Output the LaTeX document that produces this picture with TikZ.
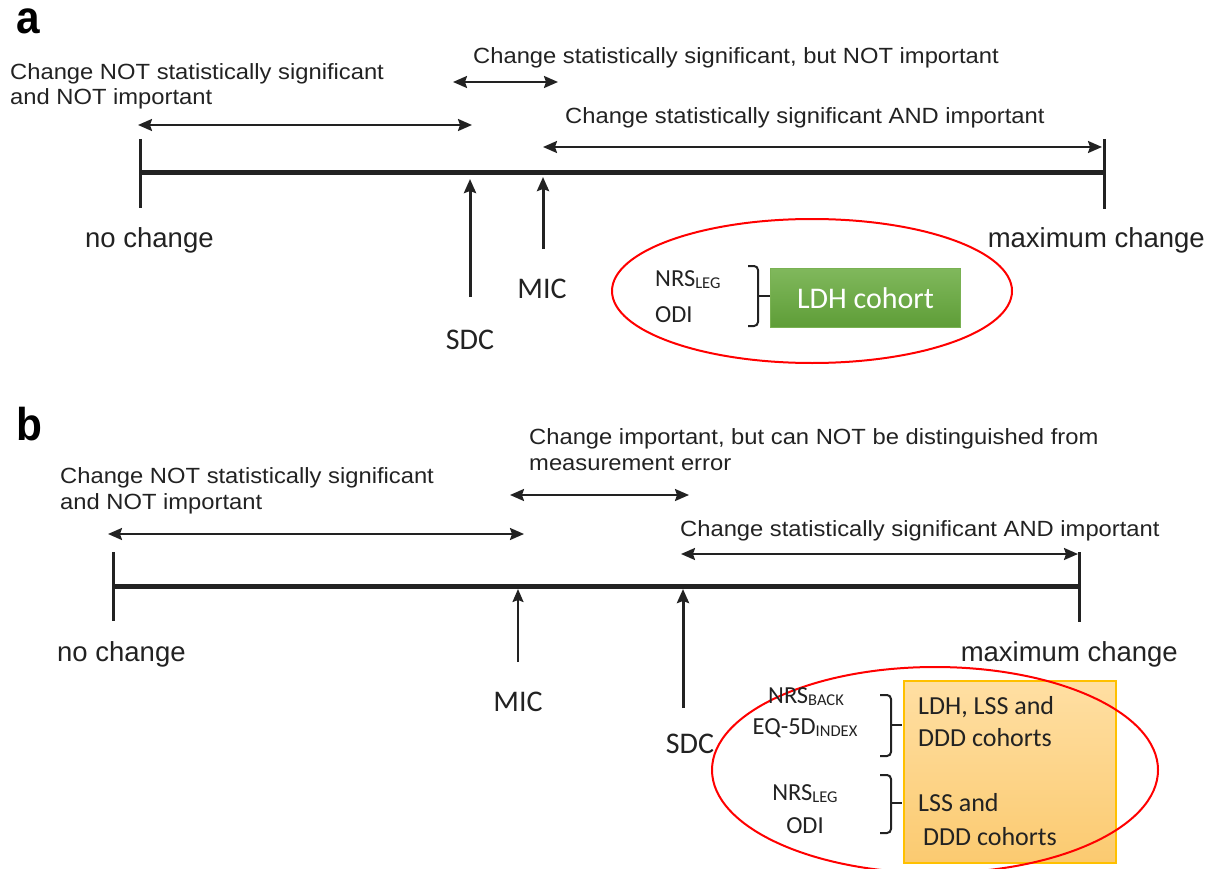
\documentclass[tikz,border=0pt]{standalone}
\usepackage{fontspec}
\setmainfont{Liberation Sans}
\newfontfamily\widefont{Liberation Sans}[FakeStretch=1.08]
\newfontfamily\panelfont{Liberation Sans}[FakeStretch=0.92]
\newfontfamily\calib{Carlito}
\usetikzlibrary{arrows.meta,shapes.geometric}
\definecolor{ldhtop}{HTML}{80B85C}
\definecolor{ldhbot}{HTML}{5E9D37}
\definecolor{ldhedge}{HTML}{79B152}
\definecolor{ortop}{HTML}{FFDFA3}
\definecolor{orbot}{HTML}{FBCA70}
\definecolor{oredge}{HTML}{FFC000}
\definecolor{ink}{HTML}{222222}
\tikzset{
  tipd/.tip={Stealth[length=14pt,width=12pt,inset=2pt]},
  darr/.style={tipd-tipd, line width=2.2pt, draw=ink},
  uparr/.style={-{Stealth[length=14pt,width=12pt,inset=2pt]}, line width=3pt, draw=ink},
  thinup/.style={-{Stealth[length=13pt,width=11pt,inset=2pt]}, line width=2pt, draw=ink},
  axisline/.style={line width=5pt, draw=ink},
  tickline/.style={line width=3pt, draw=ink},
  lbl/.style={font=\widefont\fontsize{22}{26}\selectfont, inner sep=0pt, text=ink},
  endlbl/.style={font=\fontsize{27.5}{32}\selectfont, inner sep=0pt, text=ink},
  cal/.style={font=\calib\fontsize{30}{36}\selectfont, inner sep=0pt, text=ink},
  meas/.style={font=\calib\fontsize{24.5}{30}\selectfont, inner sep=0pt, text=ink},
  panel/.style={font=\panelfont\bfseries\fontsize{46}{50}\selectfont, inner sep=0pt, text=black},
  brk/.style={line width=2pt, draw=ink, rounded corners=4pt},
  ring/.style={draw=red, line width=2pt, ellipse, inner sep=0pt},
  boxtxt/.style={font=\calib\fontsize{26}{32}\selectfont, inner sep=0pt, text=ink},
}
\newcommand{\sbs}[1]{{\fontsize{16.5}{16.5}\selectfont\raisebox{-2pt}{#1}}}
\begin{document}
\begin{tikzpicture}[x=1pt,y=-1pt]
\useasboundingbox (0,0) rectangle (1212,869);
% ================= panel a =================
\node[panel, anchor=base west] (pa) at (16,34) {a};
\node[lbl, anchor=base west] (ta1) at (10,80) {Change NOT statistically significant};
\node[lbl, anchor=base west] (ta2) at (10,105) {and NOT important};
\node[lbl, anchor=base west] (ta3) at (473,64) {Change statistically significant, but NOT important};
\node[lbl, anchor=base west] (ta4) at (565,124) {Change statistically significant AND important};
% arrows
\coordinate (a1l) at (138,125); \coordinate (a1r) at (472,125);
\draw[darr] (a1l) -- (a1r);
\coordinate (a2l) at (453,82); \coordinate (a2r) at (558,82);
\draw[darr] (a2l) -- (a2r);
\coordinate (a3l) at (543,147); \coordinate (a3r) at (1102,147);
\draw[darr] (a3l) -- (a3r);
% axis
\coordinate (ax0) at (139,173); \coordinate (ax1) at (1104,173);
\draw[axisline] (ax0) -- (ax1);
\coordinate (at0) at (140,139); \coordinate (at1) at (140,208);
\draw[tickline] (at0) -- (at1);
\coordinate (at2) at (1104,139); \coordinate (at3) at (1104,209);
\draw[tickline] (at2) -- (at3);
\node[endlbl, anchor=base west] (nca) at (85,247) {no change};
\node[endlbl, anchor=base east] (mca) at (1205,247) {maximum change};
% SDC / MIC
\node[cal, anchor=base] (sdca) at (470,349) {SDC};
\node[cal, anchor=base] (mica) at (542,298) {MIC};
\coordinate (sdcat) at (470,297); \coordinate (sdcah) at (470,179);
\draw[uparr] (sdcat) -- (sdcah);
\coordinate (micat) at (543,249); \coordinate (micah) at (543,177);
\draw[uparr] (micat) -- (micah);
% ellipse and box
\node[ring, minimum width=400, minimum height=144] (ea) at (812,291) {};
\node[meas, anchor=base west] (nrsa) at (655,286) {NRS\sbs{LEG}};
\node[meas, anchor=base west] (odia) at (655,322) {ODI};
\coordinate (bra0) at (748,266); \coordinate (braM) at (758,296);
\coordinate (bra1) at (748,326); \coordinate (braN) at (770,296);
\draw[brk] (bra0) -| (braM) |- (bra1);
\draw[brk] (braM) -- (braN);
\node[anchor=north west, minimum width=190, minimum height=59, inner sep=0pt,
      top color=ldhtop, bottom color=ldhbot, draw=ldhedge, line width=1pt] (ldh) at (770,268) {};
\node[font=\calib\fontsize{30}{34}\selectfont, text=white, inner sep=0pt] (ldht) at (ldh.center) {LDH cohort};
% ================= panel b =================
\node[panel, anchor=base west] (pb) at (16,440) {b};
\node[lbl, anchor=base west] (tb1) at (529,444) {Change important, but can NOT be distinguished from};
\node[lbl, anchor=base west] (tb2) at (529,470) {measurement error};
\node[lbl, anchor=base west] (tb3) at (60,483) {Change NOT statistically significant};
\node[lbl, anchor=base west] (tb4) at (60,509) {and NOT important};
\node[lbl, anchor=base west] (tb5) at (680,536) {Change statistically significant AND important};
\coordinate (b1l) at (108,534); \coordinate (b1r) at (524,534);
\draw[darr] (b1l) -- (b1r);
\coordinate (b2l) at (510,495); \coordinate (b2r) at (689,495);
\draw[darr] (b2l) -- (b2r);
\coordinate (b3l) at (681,554); \coordinate (b3r) at (1078,554);
\draw[darr] (b3l) -- (b3r);
\coordinate (bx0) at (113,586); \coordinate (bx1) at (1079,586);
\draw[axisline] (bx0) -- (bx1);
\coordinate (bt0) at (113,552); \coordinate (bt1) at (113,621);
\draw[tickline] (bt0) -- (bt1);
\coordinate (bt2) at (1079,552); \coordinate (bt3) at (1079,622);
\draw[tickline] (bt2) -- (bt3);
\node[endlbl, anchor=base west] (ncb) at (57,661) {no change};
\node[endlbl, anchor=base east] (mcb) at (1178,661) {maximum change};
\node[cal, anchor=base] (micb) at (518,711) {MIC};
\node[cal, anchor=base] (sdcb) at (690,753) {SDC};
\coordinate (micbt) at (518,662); \coordinate (micbh) at (518,589);
\draw[thinup] (micbt) -- (micbh);
\coordinate (sdcbt) at (683,708); \coordinate (sdcbh) at (683,589);
\draw[uparr] (sdcbt) -- (sdcbh);
% orange box
\node[anchor=north west, minimum width=212, minimum height=182, inner sep=0pt,
      top color=ortop, bottom color=orbot, draw=oredge, line width=2pt] (cb) at (903,680) {};
\node[boxtxt, anchor=base west] (c1) at (918,714) {LDH, LSS and};
\node[boxtxt, anchor=base west] (c2) at (918,746) {DDD cohorts};
\node[boxtxt, anchor=base west] (c3) at (918,811) {LSS and};
\node[boxtxt, anchor=base west] (c4) at (923,845) {DDD cohorts};
% ellipse b
\node[ring, minimum width=446, minimum height=206] (eb) at (935,770) {};
\node[meas, anchor=base] (nrsb) at (806,703) {NRS\sbs{BACK}};
\node[meas, anchor=base] (eqb) at (805,734) {EQ-5D\sbs{INDEX}};
\node[meas, anchor=base] (nrslb) at (805,800) {NRS\sbs{LEG}};
\node[meas, anchor=base] (odib) at (805,833) {ODI};
\coordinate (brb0) at (880,695); \coordinate (brbM) at (891,725);
\coordinate (brb1) at (880,756); \coordinate (brbN) at (902,725);
\draw[brk] (brb0) -| (brbM) |- (brb1);
\draw[brk] (brbM) -- (brbN);
\coordinate (brc0) at (880,775); \coordinate (brcM) at (891,803);
\coordinate (brc1) at (880,833); \coordinate (brcN) at (902,803);
\draw[brk] (brc0) -| (brcM) |- (brc1);
\draw[brk] (brcM) -- (brcN);
\end{tikzpicture}
\end{document}
